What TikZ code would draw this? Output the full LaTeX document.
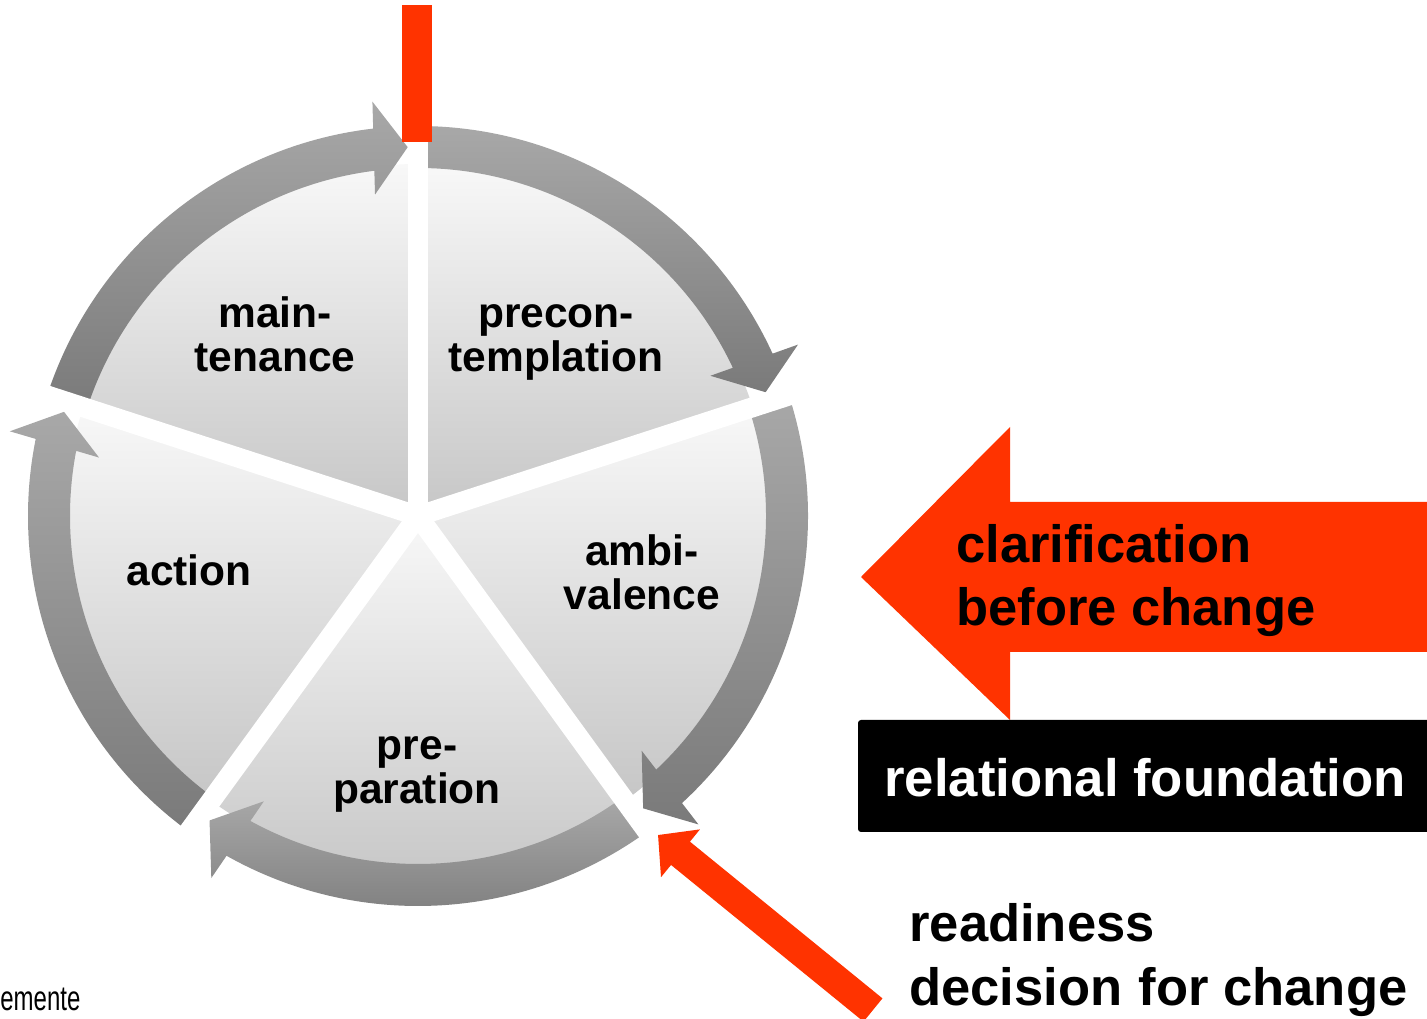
\documentclass[tikz,border=0pt]{standalone}
\usepackage{fontspec}
\setmainfont{Liberation Sans}
\usetikzlibrary{calc,arrows.meta}
\definecolor{signalred}{HTML}{FF3300}
\definecolor{ringlight}{HTML}{A8A8A8}
\definecolor{ringdark}{HTML}{7A7A7A}
\definecolor{pielight}{HTML}{F8F8F8}
\definecolor{piedark}{HTML}{C6C6C6}
\tikzset{
  stage/.style={inner sep=0pt, anchor=base, align=center,
    font=\bfseries\fontsize{24.2}{25.5}\selectfont},
  banner/.style={inner sep=0pt, anchor=base west, align=left,
    font=\bfseries\fontsize{29.9}{36.3}\selectfont},
  pieshade/.style={top color=pielight, bottom color=piedark},
  ringshade/.style={top color=ringlight, bottom color=ringdark},
}
\begin{document}
\begin{tikzpicture}[x=0.02cm, y=0.02cm]
  \useasboundingbox (0,0) rectangle (1427,1018);
  \clip (0,0) rectangle (1427,1018);
  \coordinate (O) at (418,502);

  % sectors and ring arrows, clockwise
  \foreach \s/\e in {162/90, 90/18, 18/-54, -54/-126, 234/162}{
    \pgfmathsetmacro{\t}{\e+1.6}
    \pgfmathsetmacro{\b}{\t+3.8}
    \shade[pieshade] (O) -- ($(O)+(\s:352)$)
      arc[start angle=\s, end angle=\e, radius=352] -- cycle;
    \shade[ringshade] ($(O)+(\s:390)$)
      arc[start angle=\s, end angle=\b, radius=390] -- ($(O)+(\b:348)$)
      arc[start angle=\b, end angle=\s, radius=348] -- cycle
      ($(O)+(\t:369)$) -- ($(O)+(\t:369)+(\t+90:34)+(\t:-46.5)$)
      -- ($(O)+(\t:369)+(\t+90:34)+(\t:46.5)$) -- cycle;
  }
  % white gaps between the stages
  \foreach \a in {90, 18, -54, -126, 162}
    \draw[white, line width=0.4cm] (O) -- ++(\a:400);

  % stage labels
  \node[stage] (maint) at (275,646) {main-\\tenance};
  \node[stage] (precon) at (556,646) {precon-\\templation};
  \node[stage] (ambi) at (642,408) {ambi-\\valence};
  \node[stage] (prep) at (417,214) {pre-\\paration};
  \node[stage] (act) at (189,432) {action};

  % entry bar
  \fill[signalred] (402,876) rectangle (432,1013);

  % clarification arrow
  \fill[signalred] (861,441) -- (1010,591) -- (1010,516) -- (1427,516)
    -- (1427,366) -- (1010,366) -- (1010,298) -- cycle;
  \node[banner] (clar) at (956,392) {clarification\\before change};

  % relational foundation
  \fill[black, rounded corners=1.7pt] (858,186) rectangle (1440,298);
  \node[stage, white, font=\bfseries\fontsize{30}{36}\selectfont] (found) at (1145,221) {relational foundation};

  % readiness arrow
  \coordinate (readytail) at (873,8);
  \coordinate (readytip) at (658,183);
  \draw[signalred, line width=0.6cm, -{Triangle[length=0.58cm, width=1.2cm]}] (readytail) -- (readytip);
  \node[banner] (ready) at (909,76) {readiness};
  \node[banner] (decide) at (909,13) {decision\hspace{1pt} for change};

  \node[inner sep=0pt, anchor=base west, font=\fontsize{19.8}{20}\selectfont] (foot) at (0,8) {\scalebox{0.69}[1]{emente}};
\end{tikzpicture}
\end{document}
